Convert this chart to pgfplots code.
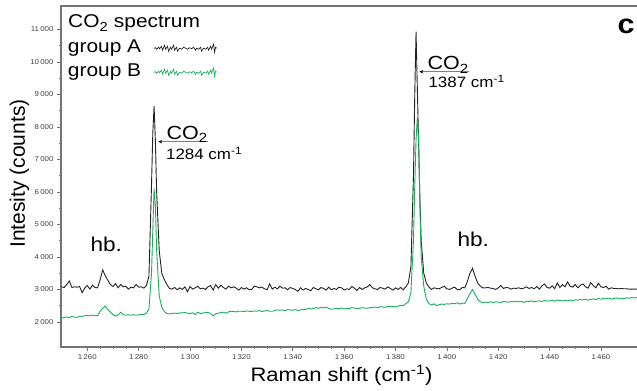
\documentclass[border=0pt]{standalone}
\usepackage{fontspec}
\setmainfont{Liberation Sans}[FakeStretch=1.13]
\newfontfamily\plainsans{Liberation Sans}
\usepackage{pgfplots}
\pgfplotsset{compat=1.18}
\usepackage{pgfplotstable}
\usetikzlibrary{arrows.meta}
\definecolor{grpA}{RGB}{35,35,35}
\definecolor{grpB}{RGB}{25,175,90}
\definecolor{axgray}{RGB}{115,115,115}

\pgfplotsset{noisy legend/.style={legend image code/.code={\draw[##1, line width=0.7bp] (0bp,0bp) -- (2bp,0.5bp) -- (3bp,-1bp) -- (5bp,1bp) -- (6bp,-0.5bp) -- (8bp,2bp) -- (9bp,-2bp) -- (11bp,3bp) -- (12bp,-1bp) -- (14bp,2bp) -- (15bp,-3bp) -- (17bp,1bp) -- (18bp,-1bp) -- (20bp,3bp) -- (21bp,-2bp) -- (23bp,1bp) -- (24bp,-3bp) -- (26bp,0bp) -- (28bp,-1bp) -- (30bp,1bp) -- (32bp,0bp) -- (34bp,-1bp) -- (36bp,0.5bp) -- (38bp,-0.5bp) -- (40bp,1bp) -- (42bp,-2bp) -- (43bp,0bp) -- (45bp,-1bp) -- (47bp,1bp) -- (48bp,-3bp) -- (50bp,0bp) -- (52bp,-1bp) -- (54bp,1bp) -- (55bp,-2bp) -- (57bp,2bp) -- (58bp,-1bp) -- (60bp,4bp) -- (61bp,-4bp) -- (62bp,1bp) -- (63bp,0bp);}}}

\pgfplotstableread{
x A B
1250 3080 2110
1251 3060 2140
1252 3150 2150
1253 3260 2140
1254 3060 2170
1255 3080 2150
1256 3070 2140
1257 3090 2180
1258 2900 2170
1259 3040 2190
1260 3120 2200
1261 3010 2190
1262 3130 2210
1263 3060 2200
1264 3050 2190
1265 3300 2330
1266 3600 2420
1267 3420 2490
1268 3280 2380
1269 3150 2300
1270 3090 2230
1271 3180 2180
1272 3050 2220
1273 3150 2300
1274 3080 2220
1275 3100 2210
1276 3010 2220
1277 3070 2210
1278 3050 2220
1279 3150 2210
1280 3070 2220
1281 3080 2230
1282 3040 2230
1283 3120 2270
1284 3400 2400
1285 6200 3500
1285.5 7800 4800
1286 8640 6100
1286.5 7600 5600
1287 6000 4200
1288 4200 2800
1289 3500 2450
1290 3300 2320
1291 3150 2260
1292 3030 2250
1293 3010 2260
1294 3060 2270
1295 2990 2260
1296 3050 2280
1297 3000 2280
1298 3080 2290
1299 2930 2270
1300 3090 2260
1301 3010 2280
1302 3050 2230
1303 3100 2300
1304 3020 2260
1305 3040 2270
1306 3000 2300
1307 3080 2290
1308 3120 2260
1309 2980 2190
1310 3150 2250
1311 3040 2270
1312 3130 2290
1313 3060 2300
1314 3010 2270
1315 3100 2310
1316 3050 2330
1317 3080 2320
1318 3040 2310
1319 2980 2330
1320 3060 2330
1321 3010 2320
1322 3050 2340
1323 2990 2330
1324 3000 2320
1325 3100 2340
1326 3080 2330
1327 3050 2350
1328 3070 2320
1329 3020 2340
1330 2990 2350
1331 3170 2330
1332 3010 2330
1333 3070 2350
1334 3020 2370
1335 3100 2360
1336 3040 2370
1337 3050 2350
1338 2990 2380
1339 3060 2370
1340 3030 2360
1341 3000 2380
1342 2940 2350
1343 3050 2370
1344 2980 2390
1345 3030 2380
1346 3000 2420
1347 2960 2400
1348 3060 2410
1349 3020 2440
1350 2990 2420
1351 3060 2450
1352 3030 2430
1353 2980 2460
1354 3070 2420
1355 2990 2390
1356 3030 2400
1357 3000 2420
1358 3070 2410
1359 3050 2430
1360 2980 2400
1361 3020 2420
1362 3000 2410
1363 3090 2440
1364 3040 2430
1365 2970 2410
1366 3060 2420
1367 3000 2440
1368 3050 2430
1369 3080 2420
1370 3150 2440
1371 3050 2450
1372 3020 2460
1373 3000 2440
1374 3060 2470
1375 3040 2460
1376 3010 2450
1377 3080 2480
1378 3030 2470
1379 2980 2480
1380 3050 2460
1381 3000 2490
1382 3060 2510
1383 2990 2500
1384 3080 2560
1385 3200 2620
1386 3700 2900
1387 6500 4500
1387.5 9000 6200
1388 10930 7600
1388.5 9200 8300
1389 7500 7600
1389.5 5800 5600
1390 4500 4000
1391 3500 3100
1392 3200 2700
1393 3080 2570
1394 3000 2520
1395 3050 2560
1396 3030 2500
1397 3020 2530
1398 3060 2550
1399 3100 2540
1400 3020 2560
1401 3000 2550
1402 3040 2570
1403 3070 2560
1404 3000 2590
1405 2990 2550
1406 3060 2580
1407 3050 2570
1408 3250 2720
1409 3500 2880
1410 3650 3000
1411 3400 2850
1412 3200 2700
1413 3100 2620
1414 3050 2600
1415 3050 2610
1416 3060 2600
1417 3040 2620
1418 3030 2600
1419 3000 2620
1420 3050 2610
1421 3120 2600
1422 3030 2630
1423 3060 2620
1424 3050 2610
1425 3010 2630
1426 3040 2620
1427 3030 2640
1428 3050 2620
1429 3020 2630
1430 3040 2600
1431 3080 2640
1432 3030 2630
1433 3060 2650
1434 3020 2620
1435 3090 2640
1436 3010 2650
1437 3110 2630
1438 3170 2660
1439 3060 2640
1440 3040 2650
1441 3110 2670
1442 3020 2640
1443 3200 2680
1444 3060 2660
1445 3150 2650
1446 3080 2660
1447 3230 2650
1448 3100 2670
1449 3070 2660
1450 3150 2680
1451 3050 2670
1452 3130 2690
1453 3170 2680
1454 3080 2700
1455 3040 2670
1456 3210 2690
1457 3120 2710
1458 3050 2690
1459 3190 2720
1460 3080 2700
1461 3060 2720
1462 3100 2710
1463 3010 2730
1464 3050 2700
1465 3030 2720
1466 3030 2740
1467 3020 2710
1468 3030 2730
1469 3020 2720
1470 3020 2740
1471 3010 2730
1472 3010 2750
1473 3010 2740
1474 3010 2750
1475 3000 2750
}\spectrum

\begin{document}
\begin{tikzpicture}
\begin{axis}[
  name=ax,
  scale only axis,
  width=579bp, height=341bp,
  xmin=1249.76, xmax=1475.2,
  ymin=1230, ymax=11717,
  xtick={1260,1280,...,1460},
  ytick={2000,3000,...,11000},
  minor x tick num=3,
  minor y tick num=1,
  xtick pos=bottom, ytick pos=left,
  tick align=outside,
  major tick length=4bp, minor tick length=2bp,
  scaled ticks=false,
  axis line style={axgray, line width=1.2bp},
  every tick/.style={axgray, line width=0.6bp},
  /pgf/number format/assume math mode=true,
  /pgf/number format/1000 sep={\,},
  ticklabel style={font=\fontsize{7bp}{9bp}\selectfont, text=black!75},
  xlabel={Raman shift (cm\textsuperscript{-1})},
  ylabel={Intesity (counts)},
  every axis x label/.style={at={(axis description cs:0.4845,0)}, anchor=base, yshift=-34.7bp, font=\fontsize{19.5bp}{24bp}\selectfont},
  every axis y label/.style={at={(axis description cs:-0.0622,0.509)}, anchor=base, rotate=90, font=\plainsans\fontsize{21bp}{24bp}\selectfont},
  legend plot pos=right,
  legend cell align=left,
  legend style={at={(axis description cs:0,1)}, anchor=north west, draw=none, fill=none,
    inner sep=0pt, outer sep=0pt,
    nodes={inner sep=0pt, text height=13.5bp, text depth=4bp},
    font=\fontsize{18.5bp}{22bp}\selectfont, row sep=6.5bp, column sep=12bp,
    xshift=7bp, yshift=-33.5bp},
]
\addplot[grpA, line width=0.9bp, no markers, noisy legend]
  table[x=x, y=A] {\spectrum};
\addlegendentry{group A}
\addplot[grpB, line width=0.9bp, no markers, noisy legend]
  table[x=x, y=B] {\spectrum};
\addlegendentry{group B}

% title and annotations
\node[anchor=base west, inner sep=0pt, font=\fontsize{18.5bp}{22bp}\selectfont] at (axis description cs:0.01209,0.9355) {CO\textsubscript{2} spectrum};
\draw[gray, line width=0.8bp, {Stealth[black,length=4bp,width=3.5bp]}-] (axis cs:1287.6,7544) -- (axis cs:1307.1,7544);
\node[anchor=base west, inner sep=0pt, font=\fontsize{19bp}{22bp}\selectfont] at (axis cs:1290.8,7618) {CO\textsubscript{2}};
\node[anchor=base west, inner sep=0pt, font=\fontsize{15bp}{18bp}\selectfont] at (axis cs:1290.6,7002) {1284 cm\textsuperscript{-1}};
\draw[gray, line width=0.8bp, {Stealth[black,length=4bp,width=3.5bp]}-] (axis cs:1389.3,9696) -- (axis cs:1408.8,9696);
\node[anchor=base west, inner sep=0pt, font=\fontsize{19bp}{22bp}\selectfont] at (axis cs:1392.4,9750) {CO\textsubscript{2}};
\node[anchor=base west, inner sep=0pt, font=\fontsize{15bp}{18bp}\selectfont] at (axis cs:1392.8,9216) {1387 cm\textsuperscript{-1}};
\node[anchor=base west, inner sep=0pt, font=\fontsize{20bp}{24bp}\selectfont] at (axis cs:1261.2,4161) {hb.};
\node[anchor=base west, inner sep=0pt, font=\fontsize{20bp}{24bp}\selectfont] at (axis cs:1404.1,4315) {hb.};
\node[anchor=base west, inner sep=0pt, font=\fontsize{27bp}{32bp}\selectfont\bfseries] at (axis cs:1466.4,10886) {c};
\end{axis}
\pgfresetboundingbox
\path ([shift={(-61bp,-44bp)}]ax.south west) rectangle ++(637bp,391bp);
\end{tikzpicture}
\end{document}
